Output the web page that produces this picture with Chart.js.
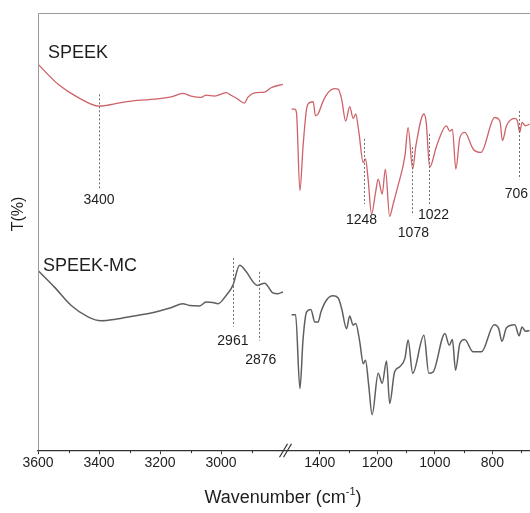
<!DOCTYPE html>
<html>
<head>
<meta charset="utf-8">
<script src="https://cdn.jsdelivr.net/npm/chart.js@4.4.1/dist/chart.umd.min.js"></script>
<style>
  html, body { margin: 0; padding: 0; background: #fff; overflow: hidden; }
</style>
</head>
<body>
<canvas id="ftirChart" width="530" height="513"></canvas>
<script>
// Spectra (wavenumber in cm-1, transmittance in arbitrary %)
const speekLeftWn = [3600, 3534, 3469, 3400, 3327, 3273, 3218, 3164, 3125, 3098, 3065, 3049, 3021, 2983, 2967, 2945, 2923, 2912, 2885, 2857, 2836, 2797];
const speekLeftT = [88.3, 83.7, 80.7, 78.7, 79.5, 80.0, 80.3, 80.8, 81.6, 81.0, 80.7, 81.2, 81.0, 81.8, 81.2, 80.3, 79.4, 80.7, 81.8, 81.9, 82.9, 83.7];

const speekRightWn = [1498, 1487, 1481, 1469, 1458, 1446, 1435, 1423, 1415, 1406, 1388, 1371, 1348, 1336, 1324, 1310, 1296, 1284, 1275, 1264, 1249, 1241, 1232, 1220, 1206, 1197, 1183, 1172, 1157, 1145, 1128, 1104, 1093, 1077, 1066, 1038, 1030, 1018, 994, 960, 948, 939, 927, 913, 896, 867, 840, 792, 774, 765, 751, 722, 713, 705, 697, 685, 671];
const speekRightT = [78.0, 78.0, 77.2, 59.4, 69.6, 78.0, 79.5, 79.7, 76.5, 76.9, 79.9, 81.8, 82.7, 82.6, 80.3, 75.3, 78.6, 75.9, 76.9, 72.7, 65.8, 66.6, 62.0, 54.0, 59.0, 62.0, 58.6, 64.3, 53.5, 56.3, 60.5, 67.3, 73.8, 64.3, 69.6, 76.9, 75.0, 64.7, 69.6, 74.2, 73.0, 73.4, 64.3, 71.5, 72.7, 68.9, 68.1, 76.1, 75.3, 70.8, 74.2, 75.9, 75.3, 72.7, 75.0, 74.2, 74.6];

const mcLeftWn = [3600, 3546, 3491, 3436, 3393, 3349, 3295, 3229, 3164, 3125, 3103, 3070, 3049, 3027, 3010, 2983, 2961, 2939, 2917, 2895, 2881, 2857, 2830, 2813, 2797];
const mcLeftT = [41.1, 37.3, 33.1, 30.5, 29.6, 29.9, 30.6, 31.4, 32.6, 33.5, 33.1, 33.0, 33.9, 33.8, 33.5, 35.4, 37.7, 42.3, 40.8, 38.5, 37.7, 38.2, 36.0, 35.8, 36.2];

const mcRightWn = [1498, 1484, 1469, 1458, 1446, 1431, 1417, 1406, 1396, 1377, 1354, 1336, 1324, 1307, 1296, 1284, 1275, 1261, 1249, 1241, 1230, 1218, 1197, 1183, 1168, 1157, 1140, 1122, 1104, 1093, 1077, 1038, 1021, 1006, 965, 950, 939, 928, 913, 896, 867, 838, 794, 778, 767, 751, 722, 707, 697, 685, 671];
const mcRightT = [31.0, 31.0, 14.1, 25.5, 31.6, 32.2, 29.3, 29.3, 31.6, 34.3, 35.3, 34.8, 32.4, 27.8, 30.7, 28.6, 29.0, 24.8, 19.8, 20.6, 14.9, 8.1, 17.6, 15.3, 20.4, 10.7, 17.9, 19.1, 21.0, 25.2, 17.6, 26.3, 17.6, 17.9, 26.7, 24.0, 25.3, 18.3, 24.4, 25.3, 22.5, 22.5, 28.7, 27.8, 24.9, 28.0, 28.7, 26.2, 28.2, 27.2, 27.4];

// Tick labels and marked peaks
const majorTicks = [3600, 3400, 3200, 3000, 1400, 1200, 1000, 800];
const minorTicks = [3500, 3300, 3100, 2900, 1300, 1100, 900, 700];
const markWn = [3400, 1248, 1078, 1022, 706, 2961, 2876];

// where each peak marker sits (y in T units, label shift in px)
const markLayout = [
  { top: 81.4, bottom: 59.7, labelY: 57.1, dx: 0 },
  { top: 71.2, bottom: 56.3, labelY: 52.7, dx: -2 },
  { top: 69.3, bottom: 53.7, labelY: 49.7, dx: 1 },
  { top: 72.3, bottom: 56.3, labelY: 53.8, dx: 5 },
  { top: 77.6, bottom: 62.0, labelY: 58.6, dx: -3 },
  { top: 44.0, bottom: 28.3, labelY: 25.0, dx: 0 },
  { top: 40.8, bottom: 25.1, labelY: 20.6, dx: 2 }
];

// broken axis: 3600-2800 on the left, 1500-670 on the right
function toAxis(w) {
  if (w > 2000) return (3600 - w) * 0.305;
  return 253 + (1500 - w) * 0.2877;
}

function points(wn, t) {
  return wn.map((w, i) => ({ x: toAxis(w), y: t[i] }));
}

const RED = 'rgb(206, 98, 104)';
const GREY = 'rgb(95, 95, 95)';
const FONT = '"Liberation Sans", Arial, sans-serif';
const TEXT = '#1e1e1e';

function seg(data, color, width) {
  return {
    data: data,
    showLine: true,
    borderColor: color,
    borderWidth: width,
    pointRadius: 0,
    cubicInterpolationMode: 'monotone',
    fill: false
  };
}

const decorations = {
  id: 'decorations',
  afterDatasetsDraw(chart) {
    const { ctx, chartArea: a, scales: { x, y } } = chart;
    ctx.save();

    // left axis and top frame
    ctx.strokeStyle = '#9a9a9a';
    ctx.lineWidth = 1;
    ctx.beginPath();
    ctx.moveTo(a.left + 0.5, a.bottom);
    ctx.lineTo(a.left + 0.5, a.top + 0.5);
    ctx.lineTo(a.right, a.top + 0.5);
    ctx.stroke();

    // peak markers
    ctx.strokeStyle = '#6e6e6e';
    ctx.setLineDash([2, 2]);
    markWn.forEach((w, i) => {
      const m = markLayout[i];
      const px = Math.round(x.getPixelForValue(toAxis(w))) + 0.5;
      ctx.beginPath();
      ctx.moveTo(px, y.getPixelForValue(m.top));
      ctx.lineTo(px, y.getPixelForValue(m.bottom));
      ctx.stroke();
    });
    ctx.setLineDash([]);

    ctx.fillStyle = TEXT;
    ctx.font = '14px ' + FONT;
    ctx.textAlign = 'center';
    ctx.textBaseline = 'middle';
    markWn.forEach((w, i) => {
      const m = markLayout[i];
      ctx.fillText(String(w), x.getPixelForValue(toAxis(w)) + m.dx, y.getPixelForValue(m.labelY));
    });

    // series names
    ctx.font = '18px ' + FONT;
    ctx.textAlign = 'left';
    ctx.fillText('SPEEK', a.left + 10, y.getPixelForValue(90.8));
    ctx.fillText('SPEEK-MC', a.left + 5, y.getPixelForValue(42.1));

    // minor ticks
    ctx.strokeStyle = '#333';
    ctx.lineWidth = 1;
    minorTicks.forEach(w => {
      const px = Math.round(x.getPixelForValue(toAxis(w))) + 0.5;
      ctx.beginPath();
      ctx.moveTo(px, a.bottom);
      ctx.lineTo(px, a.bottom + 3);
      ctx.stroke();
    });

    // axis break
    const bx = x.getPixelForValue((toAxis(2800) + toAxis(1500)) / 2) - 1;
    ctx.lineWidth = 1.2;
    [-2, 2].forEach(off => {
      ctx.beginPath();
      ctx.moveTo(bx + off - 4, a.bottom + 7);
      ctx.lineTo(bx + off + 4, a.bottom - 6.5);
      ctx.stroke();
    });

    // axis titles
    ctx.fillStyle = TEXT;
    ctx.font = '18px ' + FONT;
    ctx.textBaseline = 'alphabetic';
    const main = 'Wavenumber (cm';
    const sup = '-1';
    const tail = ')';
    const w1 = ctx.measureText(main).width;
    const w3 = ctx.measureText(tail).width;
    ctx.font = '11px ' + FONT;
    const w2 = ctx.measureText(sup).width;
    let tx = 283 - (w1 + w2 + w3) / 2;
    const base = 503;
    ctx.font = '18px ' + FONT;
    ctx.textAlign = 'left';
    ctx.fillText(main, tx, base);
    tx += w1;
    ctx.font = '11px ' + FONT;
    ctx.fillText(sup, tx, base - 8);
    tx += w2;
    ctx.font = '18px ' + FONT;
    ctx.fillText(tail, tx, base);

    ctx.save();
    ctx.translate(19, 214);
    ctx.rotate(-Math.PI / 2);
    ctx.font = '16px ' + FONT;
    ctx.textAlign = 'center';
    ctx.textBaseline = 'middle';
    ctx.fillText('T(%)', 0, 0);
    ctx.restore();

    ctx.restore();
  }
};

const config = {
  type: 'scatter',
  data: {
    datasets: [
      seg(points(speekLeftWn, speekLeftT), RED, 1.3),
      seg(points(speekRightWn, speekRightT), RED, 1.3),
      seg(points(mcLeftWn, mcLeftT), GREY, 1.5),
      seg(points(mcRightWn, mcRightT), GREY, 1.5)
    ]
  },
  options: {
    responsive: false,
    animation: false,
    devicePixelRatio: 1,
    layout: { padding: { left: 38, top: 13, right: 0, bottom: 40 } },
    plugins: { legend: { display: false }, tooltip: { enabled: false } },
    scales: {
      x: {
        type: 'linear',
        min: 0,
        max: 492,
        afterBuildTicks: axis => {
          axis.ticks = majorTicks.map(w => ({ value: toAxis(w) }));
        },
        ticks: {
          autoSkip: false,
          maxRotation: 0,
          padding: 1,
          color: TEXT,
          font: { family: FONT, size: 14 },
          callback: (v, i) => String(majorTicks[i])
        },
        grid: { display: true, drawOnChartArea: false, drawTicks: true, tickLength: 4, color: '#333' },
        border: { display: true, color: '#333', width: 1.3 }
      },
      y: {
        display: false,
        min: 0,
        max: 100
      }
    }
  },
  plugins: [decorations]
};

const ctx = document.getElementById('ftirChart').getContext('2d');
const ftirChart = new Chart(ctx, config);
</script>
</body>
</html>
